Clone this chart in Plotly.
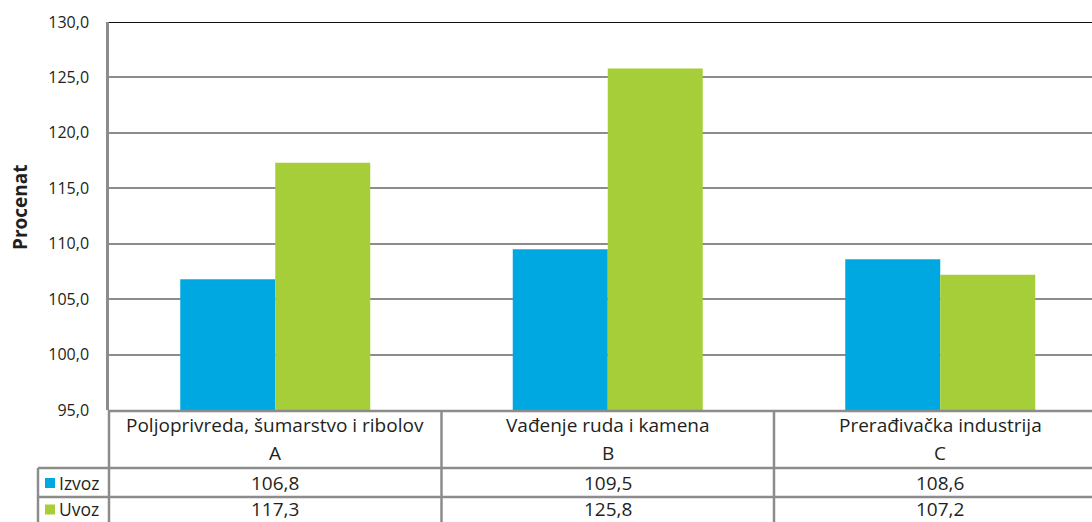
import plotly.graph_objects as go

categories = ["Poljoprivreda, šumarstvo i ribolov", "Vađenje ruda i kamena", "Prerađivačka industrija"]
codes = ["A", "B", "C"]
series_names = ["Izvoz", "Uvoz"]
izvoz = [106.8, 109.5, 108.6]
uvoz = [117.3, 125.8, 107.2]
colors = ["#00A8E1", "#A6CE39"]
y_ticks = [95, 100, 105, 110, 115, 120, 125, 130]

W, H = 1092, 522
L, T, B = 109, 22, 410
PH = B - T
PW = W - L
CAT_W = 332.5      # pixel width of a category slot (plot runs past the right edge)

def py(p):
    return (B - p) / PH

def px(p):
    return (p - L) / PW

FONT = "Open Sans"
TXT = "#231f20"
GRAY = "#8c8c8c"
ROW_Y = [483, 508.5]

xs = list(range(len(categories)))
fig = go.Figure()
for name, vals, col in zip(series_names, [izvoz, uvoz], colors):
    fig.add_trace(go.Bar(x=xs, y=vals, name=name, marker=dict(color=col, line=dict(width=0)),
                         showlegend=False, base=0))

shapes = []
shapes.append(dict(type="line", xref="paper", yref="y", x0=0, x1=1, y0=130, y1=130,
                   line=dict(color="#111111", width=2)))
for yy, x0 in [(411, None), (468, 38), (497, 38)]:
    shapes.append(dict(type="line", xref="paper", yref="paper", x0=px(x0) if x0 else 0, x1=1,
                       y0=py(yy), y1=py(yy), line=dict(color=GRAY, width=2.5)))
shapes.append(dict(type="line", xref="paper", yref="paper", x0=px(38), x1=px(38),
                   y0=py(468), y1=py(530), line=dict(color=GRAY, width=2.5)))
shapes.append(dict(type="line", xref="paper", yref="paper", x0=0, x1=0,
                   y0=py(410), y1=py(530), line=dict(color=GRAY, width=2.5)))
for i in range(1, len(categories)):
    shapes.append(dict(type="line", xref="x", yref="paper", x0=i - 0.5, x1=i - 0.5,
                       y0=py(410), y1=py(530), line=dict(color=GRAY, width=2.5)))
for j, col in enumerate(colors):
    yc = ROW_Y[j] + (1 if j else 0)
    shapes.append(dict(type="rect", xref="paper", yref="paper", x0=px(45), x1=px(55),
                       y0=py(yc + 5), y1=py(yc - 5), fillcolor=col, line=dict(width=0)))

annotations = []
TF = dict(family=FONT, size=19, color=TXT)
for i, (c, code) in enumerate(zip(categories, codes)):
    annotations.append(dict(x=i, xref="x", y=py(425), yref="paper", text=c, showarrow=False,
                            font=TF, xanchor="center", yanchor="middle"))
    annotations.append(dict(x=i, xref="x", y=py(453), yref="paper", text=code, showarrow=False,
                            font=TF, xanchor="center", yanchor="middle"))
    for j, vals in enumerate([izvoz, uvoz]):
        annotations.append(dict(x=i, xref="x", y=py(ROW_Y[j]), yref="paper",
                                text=f"{vals[i]:.1f}".replace(".", ","), showarrow=False,
                                font=TF, xanchor="center", yanchor="middle"))
for j, name in enumerate(series_names):
    annotations.append(dict(x=px(57), xref="paper", y=py(ROW_Y[j]), yref="paper", text=name,
                            showarrow=False, font=dict(family=FONT, size=17.5, color=TXT),
                            xanchor="left", yanchor="middle"))
annotations.append(dict(x=px(20), xref="paper", y=py(207), yref="paper", text="<b>Procenat</b>",
                        textangle=-90, showarrow=False, font=dict(family=FONT, size=19, color=TXT),
                        xanchor="center", yanchor="middle"))

x_hi = -0.5 + PW / CAT_W

fig.update_layout(
    width=W, height=H,
    margin=dict(l=L, r=0, t=T, b=H - B, pad=0),
    paper_bgcolor="white", plot_bgcolor="white",
    separators=",.",
    barmode="group", bargap=1 - 190 / CAT_W, bargroupgap=0,
    xaxis=dict(range=[-0.5, x_hi], showticklabels=False, showgrid=False,
               zeroline=False, showline=False, fixedrange=True),
    yaxis=dict(range=[95, 130], tickvals=y_ticks, tickformat=".1f", showgrid=True,
               gridcolor=GRAY, gridwidth=2, zeroline=False, showline=True, linecolor=GRAY,
               linewidth=2.5, ticks="", ticklabelstandoff=14,
               tickfont=dict(family=FONT, size=16, color=TXT)),
    shapes=shapes, annotations=annotations,
    showlegend=False,
)
fig.write_html("out.html", config={"displayModeBar": False},
               post_script="document.body.style.margin='0';document.body.style.overflow='hidden';")
